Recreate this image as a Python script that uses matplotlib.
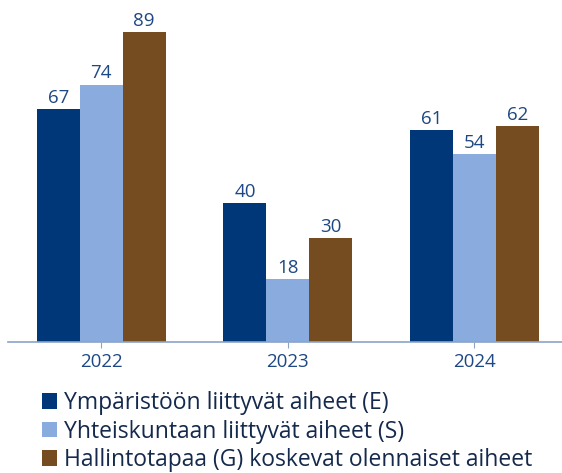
import matplotlib
matplotlib.use("Agg")
import matplotlib.pyplot as plt
from matplotlib.patches import Patch
import numpy as np

years = ["2022", "2023", "2024"]
series_names = ["Ympäristöön liittyvät aiheet (E)",
                "Yhteiskuntaan liittyvät aiheet (S)",
                "Hallintotapaa (G) koskevat olennaiset aiheet"]
values_E = [67, 40, 61]
values_S = [74, 18, 54]
values_G = [89, 30, 62]

colors = ["#003778", "#8aabde", "#744c20"]
label_color = "#1d4883"
legend_color = "#14294c"
plt.rcParams['font.family'] = ['Open Sans', 'DejaVu Sans']

fig = plt.figure(figsize=(5.62, 4.73), dpi=100)
ax = fig.add_axes([8/562, 1-342/473, 1-8/562, 342/473])

x = np.arange(len(years))
w = 0.23
for i, (vals, c) in enumerate(zip([values_E, values_S, values_G], colors)):
    bars = ax.bar(x + (i-1)*w, vals, width=w, color=c, label=series_names[i])
    for b, v in zip(bars, vals):
        ax.text(b.get_x()+b.get_width()/2, v + 0.6, str(v), ha='center', va='bottom',
                fontsize=13.5, color=label_color)

ax.set_xlim(-0.5, 2.47)
ax.set_ylim(0, 98.3)
for s in ['top', 'right', 'left']:
    ax.spines[s].set_visible(False)
ax.spines['bottom'].set_color('#8aa4c8')
ax.spines['bottom'].set_linewidth(1.2)
ax.set_yticks([])
ax.set_xticks(x)
ax.set_xticklabels(years, fontsize=13.5, color=label_color)
ax.tick_params(axis='x', colors='#8aa4c8', labelcolor=label_color, length=4, pad=4)

handles = [Patch(facecolor=c) for c in colors]
fs = 16.5
em = fs * 100 / 72
fig.legend(handles, series_names, loc='upper left', bbox_to_anchor=(42/562, 1-391/473),
           frameon=False, fontsize=fs, labelcolor=legend_color, handlelength=15/em,
           handleheight=15/em, handletextpad=7/em, labelspacing=0.2, borderpad=0, borderaxespad=0)

fig.savefig("out.png", dpi=100)
